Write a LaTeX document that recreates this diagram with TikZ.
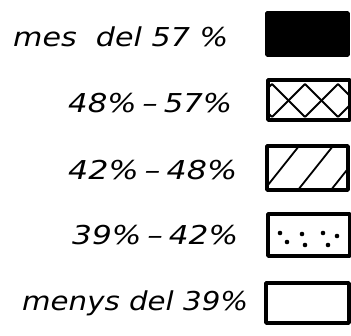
\documentclass[tikz,border=0pt]{standalone}
\usepackage{fontspec}
\usepackage{graphicx}
\newfontfamily\labfont{DejaVu Sans}
\begin{document}
\begin{tikzpicture}[x=1pt,y=-1pt,
  lab/.style={anchor=base west,inner sep=0pt,font=\labfont\itshape\fontsize{26}{28}\selectfont},
  legbox/.style={draw=black,line width=3.4pt,line join=round},
  hatchline/.style={line width=1.8pt}]
\useasboundingbox (0,0) rectangle (351,336);
% labels
\node[lab] (t1) at (13,47) {\resizebox{215pt}{\height}{mes\ \ del 57 \%}};
\node[lab] (t2) at (68,113) {\resizebox{164pt}{\height}{48\%\kern5pt–\kern5pt57\%}};
\node[lab] (t3) at (68,180) {\resizebox{169pt}{\height}{42\%\kern5pt–\kern5pt48\%}};
\node[lab] (t4) at (72,245) {\resizebox{166pt}{\height}{39\%\kern5pt–\kern5pt42\%}};
\node[lab] (t5) at (22,311) {\resizebox{226pt}{\height}{menys del 39\%}};
% box 1: solid
\draw[legbox,fill=black] (267,13) rectangle (348,55);
% box 2: crosshatch
\begin{scope}
\clip (268,80) rectangle (350,120);
\foreach \s in {239,272,305,338}{
  \draw[hatchline] (\s,84) -- (\s+33,117);
  \draw[hatchline] (\s,117) -- (\s+33,84);
}
\end{scope}
\draw[legbox] (268,80) rectangle (350,120);
% box 3: diagonal hatch
\begin{scope}
\clip (267,146) rectangle (348,190);
\foreach \s in {264,298,331}{
  \draw[hatchline] (\s,190) -- (\s+35,146);
}
\end{scope}
\draw[legbox] (267,146) rectangle (348,190);
% box 4: dots
\foreach \p in {(280,233),(287,242),(302,234),(305,245),(323,233),(328,245),(337,236)}{
  \fill \p circle (2.3pt);
}
\draw[legbox] (268,214) rectangle (350,256);
% box 5: empty
\draw[legbox] (266,283) rectangle (349,323);
\end{tikzpicture}
\end{document}
